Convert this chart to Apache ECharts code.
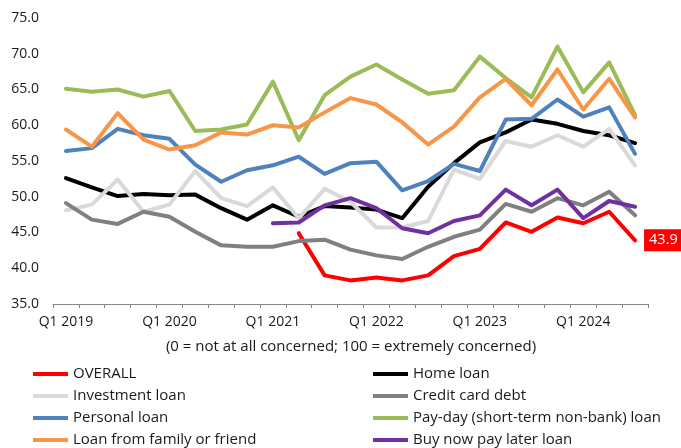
<!DOCTYPE html>
<html>
<head>
<meta charset="utf-8">
<script src="https://cdn.jsdelivr.net/npm/echarts@6/dist/echarts.min.js"></script>
<style>
  html, body { margin: 0; padding: 0; background: #fff; }
  #chart { width: 681px; height: 448px; }
</style>
</head>
<body>
<div id="chart"></div>
<script>
// Quarterly concern index, Q1 2019 – Q3 2024
const quarters = [
  'Q1 2019','Q2 2019','Q3 2019','Q4 2019',
  'Q1 2020','Q2 2020','Q3 2020','Q4 2020',
  'Q1 2021','Q2 2021','Q3 2021','Q4 2021',
  'Q1 2022','Q2 2022','Q3 2022','Q4 2022',
  'Q1 2023','Q2 2023','Q3 2023','Q4 2023',
  'Q1 2024','Q2 2024','Q3 2024'
];

const overall = [null, null, null, null, null, null, null, null, null,
  44.9, 39.0, 38.3, 38.7, 38.3, 39.0, 41.7, 42.7, 46.4, 45.1, 47.1, 46.3, 47.9, 43.9];
const homeLoan = [52.6, 51.3, 50.1, 50.4, 50.2, 50.3, 48.4, 46.8, 48.8, 47.2, 48.7, 48.5,
  48.2, 47.0, 51.4, 54.7, 57.6, 59.0, 60.8, 60.2, 59.2, 58.6, 57.5];
const investmentLoan = [48.1, 48.9, 52.4, 47.9, 48.9, 53.6, 49.8, 48.7, 51.3, 47.0, 51.1, 49.3,
  45.7, 45.7, 46.6, 53.8, 52.5, 57.8, 57.0, 58.6, 57.0, 59.5, 54.4];
const creditCard = [49.1, 46.8, 46.2, 47.9, 47.2, 45.1, 43.2, 43.0, 43.0, 43.8, 44.0, 42.6,
  41.8, 41.3, 43.0, 44.4, 45.4, 49.0, 47.9, 49.8, 48.8, 50.7, 47.4];
const personalLoan = [56.4, 56.8, 59.5, 58.6, 58.1, 54.5, 52.1, 53.7, 54.4, 55.6, 53.2, 54.7,
  54.9, 50.9, 52.2, 54.6, 53.6, 60.8, 60.9, 63.6, 61.2, 62.5, 56.0];
const payDay = [65.1, 64.7, 65.0, 64.0, 64.8, 59.2, 59.4, 60.1, 66.1, 57.9, 64.2, 66.8,
  68.5, 66.4, 64.4, 64.9, 69.6, 66.6, 63.9, 71.0, 64.6, 68.8, 61.4];
const familyLoan = [59.4, 57.0, 61.7, 58.0, 56.6, 57.2, 59.0, 58.7, 60.0, 59.7, 61.8, 63.8,
  62.9, 60.4, 57.3, 59.8, 63.9, 66.5, 62.8, 67.8, 62.2, 66.5, 61.1];
const bnpl = [null, null, null, null, null, null, null, null,
  46.3, 46.4, 48.8, 49.8, 48.4, 45.6, 44.9, 46.6, 47.4, 51.0, 48.8, 51.0, 47.0, 49.4, 48.6];

const yTicks = { min: 35, max: 75, step: 5 };
const subtitle = '(0 = not at all concerned; 100 = extremely concerned)';

const FONT = 'Open Sans';
const TXT = '#1a1a1a';

function line(name, data, color) {
  return {
    name, type: 'line', data, symbol: 'none', connectNulls: false,
    lineStyle: { color, width: 4, cap: 'round', join: 'round' },
    itemStyle: { color }
  };
}

// Latest OVERALL reading gets a value tag
const lastIdx = overall.length - 1;
const overallData = overall.map((v, i) => i === lastIdx ? {
  value: v,
  label: {
    show: true, position: 'right', distance: 9,
    formatter: p => p.value.toFixed(1),
    color: '#fff', backgroundColor: '#ff0000',
    fontFamily: FONT, fontSize: 14.5, lineHeight: 16,
    padding: [3, 4, 3, 5]
  }
} : v);

const overallSeries = line('OVERALL', overallData, '#ff0000');
// invisible symbols so the value tag has an anchor
overallSeries.symbol = 'circle';
overallSeries.symbolSize = 0;
overallSeries.showSymbol = true;
overallSeries.showAllSymbol = true;

const series = [
  overallSeries,
  line('Home loan', homeLoan, '#000000'),
  line('Investment loan', investmentLoan, '#d9d9d9'),
  line('Credit card debt', creditCard, '#808080'),
  line('Personal loan', personalLoan, '#4f81bd'),
  line('Pay-day (short-term non-bank) loan', payDay, '#9bbb59'),
  line('Loan from family or friend', familyLoan, '#f79646'),
  line('Buy now pay later loan', bnpl, '#7030a0')
];

const legendBase = {
  orient: 'vertical', top: 365.5, height: 84, padding: 0,
  itemWidth: 35, itemHeight: 4, itemGap: 5,
  icon: 'rect', selectedMode: false,
  textStyle: { fontFamily: FONT, fontSize: 15, lineHeight: 17, color: TXT }
};

const chart = echarts.init(document.getElementById('chart'), null, { renderer: 'canvas' });
chart.setOption({
  animation: false,
  backgroundColor: '#fff',
  grid: { left: 53, right: 33, top: 18, bottom: 144, containLabel: false },
  xAxis: {
    type: 'category', data: quarters, boundaryGap: true,
    axisLine: { lineStyle: { color: '#868686', width: 1 } },
    axisTick: { show: true, interval: 0, length: 4, lineStyle: { color: '#868686' } },
    axisLabel: { interval: 3, margin: 11, fontFamily: FONT, fontSize: 14, color: TXT }
  },
  yAxis: {
    type: 'value', min: yTicks.min, max: yTicks.max, interval: yTicks.step,
    axisLine: { show: false }, axisTick: { show: false }, splitLine: { show: false },
    axisLabel: { margin: 14, fontFamily: FONT, fontSize: 14, color: TXT,
      formatter: v => v.toFixed(1) }
  },
  legend: [
    Object.assign({}, legendBase, { left: 33,
      data: ['OVERALL', 'Investment loan', 'Personal loan', 'Loan from family or friend'] }),
    Object.assign({}, legendBase, { left: 373,
      data: ['Home loan', 'Credit card debt', 'Pay-day (short-term non-bank) loan', 'Buy now pay later loan'] })
  ],
  graphic: [{
    type: 'text', x: 351, y: 347,
    style: { text: subtitle, fontFamily: FONT, fontSize: 15, fill: TXT,
      textAlign: 'center', textVerticalAlign: 'middle' }
  }],
  series
});
</script>
</body>
</html>
